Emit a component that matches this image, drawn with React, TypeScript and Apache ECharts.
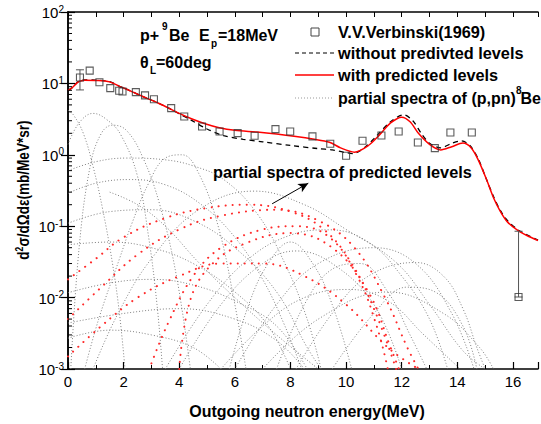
import React, { useEffect, useRef } from "react";
import * as echarts from "echarts";

const FONT = "'Liberation Sans', Arial, Helvetica, sans-serif";

// Experimental data V.V.Verbinski(1969)
const expX = [0.43, 0.78, 1.13, 1.52, 1.84, 1.96, 2.44, 2.77, 3.09, 3.71, 4.18, 4.82, 5.45, 6.1, 6.71, 7.46, 7.99, 8.79, 9.43, 10.0, 10.59, 11.27, 11.89, 12.58, 13.19, 13.75, 14.52, 16.2];
const expY = [12.1, 15.1, 10.4, 8.6, 7.9, 7.7, 7.55, 6.8, 6.0, 4.5, 3.44, 2.49, 2.12, 2.01, 1.85, 2.29, 2.12, 1.81, 1.43, 0.97, 1.57, 1.86, 2.12, 1.49, 1.24, 2.05, 2.05, 0.0102];
// error bars: [x, low, high]
const errBars = [
  [0.43, 8.1, 15.5],
  [16.2, 0.0102, 0.085],
];

// with predicted levels (red solid)
const withPred = [
  [0.0, 8.0], [0.15, 8.7], [0.37, 10.5], [0.6, 11.1], [1.0, 11.0], [1.5, 10.5], [1.85, 9.1], [2.2, 8.0], [2.67, 6.6], [3.2, 5.4], [3.62, 4.5], [4.0, 3.8], [4.44, 3.2], [4.9, 2.75], [5.4, 2.42], [6.0, 2.2], [6.8, 2.08], [7.5, 1.95], [8.2, 1.8], [8.8, 1.66], [9.4, 1.5], [9.8, 1.25], [10.3, 1.09], [10.8, 1.35], [11.2, 1.9], [11.6, 2.8], [12.0, 3.37], [12.3, 2.9], [12.6, 2.0], [13.0, 1.4], [13.4, 1.17], [13.8, 1.3], [14.2, 1.46], [14.5, 1.25], [14.75, 0.85], [15.05, 0.45], [15.3, 0.25], [15.55, 0.16], [15.8, 0.115], [16.2, 0.086], [16.5, 0.074], [16.9, 0.063],
];
// without predicted levels (black dashed)
const withoutPred = [
  [0.0, 8.0], [0.15, 8.7], [0.37, 10.6], [0.6, 11.2], [1.0, 11.1], [1.5, 10.6], [1.85, 9.1], [2.2, 8.0], [2.67, 6.6], [3.2, 5.4], [3.62, 4.5], [4.0, 3.75], [4.4, 3.1], [5.0, 2.3], [5.6, 1.85], [6.3, 1.65], [7.0, 1.52], [8.0, 1.35], [9.0, 1.22], [9.5, 1.17], [10.0, 1.07], [10.25, 1.04], [10.7, 1.3], [11.1, 1.85], [11.6, 2.9], [12.07, 3.63], [12.4, 3.0], [12.7, 2.0], [13.0, 1.45], [13.4, 1.25], [13.8, 1.45], [14.14, 1.57], [14.45, 1.35], [14.75, 0.88], [15.05, 0.45], [15.3, 0.26], [15.55, 0.165], [15.8, 0.12], [16.2, 0.088], [16.5, 0.076], [16.9, 0.064],
];

// partial spectra of (p,pn)8Be (grey dotted)
const g01 = [[0, 4.2], [0.2, 3.6], [0.55, 2.0], [0.9, 0.69], [1.25, 0.17], [1.6, 0.03], [1.85, 0.006], [2.05, 0.001]];
const g02 = [[0, 1.4], [0.4, 2.8], [0.9, 3.8], [1.4, 3.1], [1.9, 1.9], [2.5, 0.5], [2.9, 0.07], [3.2, 0.008], [3.4, 0.001]];
const g03 = [[0.1, 0.001], [0.4, 0.05], [0.8, 0.7], [1.2, 2.0], [1.6, 2.6], [2.1, 2.2], [2.7, 0.9], [3.3, 0.2], [3.9, 0.02], [4.4, 0.001]];
const g04 = [[0.6, 0.001], [1.13, 0.0054], [1.84, 0.034], [2.3, 0.11], [2.9, 0.4], [3.5, 0.9], [4.1, 1.0], [4.7, 0.55], [5.4, 0.1], [6.0, 0.008], [6.4, 0.001]];
const g05 = [[0, 0.6], [1, 0.8], [2.1, 0.9], [3.5, 0.85], [4.5, 0.7], [5.6, 0.45], [6.8, 0.15], [7.8, 0.03], [8.6, 0.005], [9.1, 0.001]];
const g06 = [[0.9, 0.001], [1.8, 0.006], [3, 0.035], [4.7, 0.17], [6.7, 0.31], [8.5, 0.2], [10, 0.09], [11.8, 0.031], [13, 0.008], [14.2, 0.0018], [15, 0.001]];
const g07 = [[0, 0.29], [1, 0.4], [2.2, 0.45], [3.5, 0.38], [4.8, 0.2], [6, 0.07], [7, 0.018], [7.8, 0.004], [8.4, 0.001]];
const g08 = [[0, 0.11], [1.5, 0.16], [3, 0.17], [4.5, 0.12], [6, 0.05], [7.5, 0.012], [8.6, 0.002], [9.1, 0.001]];
const g09 = [[0, 0.055], [1.5, 0.06], [3, 0.05], [4.5, 0.03], [6, 0.012], [7.2, 0.004], [8, 0.001]];
const g10 = [[0, 0.0117], [1.5, 0.016], [3, 0.018], [4.5, 0.015], [6, 0.009], [7.5, 0.004], [8.6, 0.001]];
const g11 = [[0, 0.0044], [2, 0.006], [4, 0.007], [6, 0.005], [7.5, 0.0025], [8.5, 0.001]];
const g12 = [[0, 0.0027], [1.5, 0.0035], [3, 0.003], [4.5, 0.002], [5.5, 0.001]];
const g13 = [[3.5, 0.001], [5, 0.008], [6.5, 0.035], [8, 0.075], [9.4, 0.089], [10.8, 0.06], [12, 0.02], [13, 0.005], [13.65, 0.001]];
const g14 = [[5.5, 0.001], [7, 0.004], [8.5, 0.01], [10.1, 0.013], [11.5, 0.009], [12.8, 0.003], [14.1, 0.001]];
const g15 = [[8.2, 0.001], [9.5, 0.006], [10.8, 0.02], [12.5, 0.031], [13.5, 0.02], [14.2, 0.007], [14.7, 0.002], [15.0, 0.001]];
const g16 = [[6, 0.001], [7.5, 0.008], [9, 0.03], [11, 0.05], [12.5, 0.03], [13.8, 0.006], [14.6, 0.001]];
const g17 = [[4, 0.001], [5.5, 0.008], [7, 0.03], [8.2, 0.045], [9.5, 0.03], [11, 0.008], [12, 0.001]];
const g18 = [[1.5, 0.3], [2.5, 0.2], [3.5, 0.1], [4.7, 0.031], [6, 0.01], [7.5, 0.003], [9, 0.001]];
const g19 = [[5.8, 0.001], [6.5, 0.008], [7.2, 0.03], [8, 0.06], [8.8, 0.03], [9.5, 0.008], [10.2, 0.001]];
const g20 = [[7.5, 0.001], [8.5, 0.008], [9.5, 0.025], [10.5, 0.03], [11.5, 0.012], [12.3, 0.003], [12.9, 0.001]];
const g21 = [[7, 0.001], [9, 0.005], [11.5, 0.012], [13.5, 0.006], [14.8, 0.002], [15.3, 0.001]];
const g22 = [[9.5, 0.001], [11, 0.006], [12.2, 0.014], [13.2, 0.012], [14.2, 0.004], [14.7, 0.001]];
const grayCurves = [g01, g02, g03, g04, g05, g06, g07, g08, g09, g10, g11, g12, g13, g14, g15, g16, g17, g18, g19, g20, g21, g22];

// partial spectra of predicted levels (red dotted)
const r1 = [[0, 0.018], [1, 0.035], [2, 0.07], [3.5, 0.13], [5, 0.18], [6.5, 0.2], [8, 0.16], [9.2, 0.09], [10.2, 0.03], [11, 0.007], [11.8, 0.001]];
const r2 = [[0, 0.005], [1.2, 0.014], [2.5, 0.04], [4, 0.09], [5.5, 0.14], [7.5, 0.17], [9, 0.12], [10.3, 0.05], [11.4, 0.01], [12.2, 0.002], [12.6, 0.001]];
const r3 = [[3.0, 0.0012], [3.6, 0.0044], [4.5, 0.02], [5.5, 0.05], [7, 0.09], [8.2, 0.1], [9.4, 0.07], [10.4, 0.02], [11.1, 0.004], [11.5, 0.001]];
const r4 = [[4.0, 0.001], [4.4, 0.0093], [5.2, 0.03], [6.5, 0.06], [8, 0.08], [9.5, 0.05], [10.8, 0.012], [11.6, 0.002], [11.9, 0.001]];
const r5 = [[0, 0.0015], [1.2, 0.004], [2.5, 0.01], [4, 0.02], [5.5, 0.03], [7, 0.03], [8.5, 0.02], [10, 0.008], [11.5, 0.002], [12.6, 0.001]];
const redCurves = [r1, r2, r3, r4, r5];

// arrow of the annotation, in data coordinates
const arrowFrom = [7.34, 0.206];
const arrowTo = [8.64, 0.4];

// axis ticks
const xLabels = [0, 2, 4, 6, 8, 10, 12, 14, 16];
const decades = [-3, -2, -1, 0, 1];
const minorMultipliers = [2, 3, 4, 5, 6, 7, 8, 9];

export default function App() {
  const ref = useRef<HTMLDivElement>(null);

  useEffect(() => {
    if (!ref.current) return;
    const chart = echarts.init(ref.current, null, { renderer: "svg" });

    const minorVals: number[][] = [];
    decades.forEach((d) => minorMultipliers.forEach((m) => minorVals.push([0, m * Math.pow(10, d)])));

    const axisLine = { show: true, lineStyle: { color: "#000", width: 1.5 } };

    const series: any[] = [];
    grayCurves.forEach((c) =>
      series.push({
        type: "line",
        data: c,
        smooth: 0.4,
        showSymbol: false,
        silent: true,
        z: 1,
        lineStyle: { color: "#808080", width: 1, type: [1, 2] },
      })
    );
    redCurves.forEach((c) =>
      series.push({
        type: "line",
        data: c,
        smooth: 0.4,
        showSymbol: false,
        silent: true,
        z: 2,
        lineStyle: { color: "#ff2a2a", width: 2, type: [0.1, 7], cap: "round" },
      })
    );
    series.push({
      type: "line",
      data: withoutPred,
      smooth: 0.3,
      showSymbol: false,
      z: 3,
      lineStyle: { color: "#000", width: 1.3, type: [5, 4] },
    });
    series.push({
      type: "line",
      data: withPred,
      smooth: 0.3,
      showSymbol: false,
      z: 4,
      lineStyle: { color: "#ff0000", width: 1.5 },
      markLine: {
        silent: true,
        symbol: ["none", "arrow"],
        symbolSize: [7, 10],
        label: { show: false },
        lineStyle: { color: "#000", width: 1, type: "solid" },
        data: [[{ coord: arrowFrom }, { coord: arrowTo }]],
      },
    });
    series.push({
      type: "custom",
      z: 5,
      silent: true,
      clip: false,
      data: errBars,
      encode: { x: 0, y: [1, 2] },
      renderItem: (params: any, api: any) => {
        const x = api.value(0);
        const lo = api.coord([x, api.value(1)]);
        const hi = api.coord([x, api.value(2)]);
        const st = { stroke: "#555", lineWidth: 1 };
        return {
          type: "group",
          children: [
            { type: "line", shape: { x1: lo[0], y1: lo[1], x2: hi[0], y2: hi[1] }, style: st },
            { type: "line", shape: { x1: hi[0] - 4, y1: hi[1], x2: hi[0] + 4, y2: hi[1] }, style: st },
            { type: "line", shape: { x1: lo[0] - 4, y1: lo[1], x2: lo[0] + 4, y2: lo[1] }, style: st },
          ],
        };
      },
    });
    series.push({
      type: "scatter",
      z: 6,
      data: expX.map((x, i) => [x, expY[i]]),
      symbol: "rect",
      symbolSize: 7,
      itemStyle: { color: "rgba(255,255,255,0)", borderColor: "#333", borderWidth: 1.1 },
    });
    // left minor ticks of the log axis
    series.push({
      type: "custom",
      z: 7,
      silent: true,
      clip: false,
      data: minorVals,
      renderItem: (params: any, api: any) => {
        const p = api.coord([0, api.value(1)]);
        return {
          type: "line",
          shape: { x1: p[0], y1: p[1], x2: p[0] + 4, y2: p[1] },
          style: { stroke: "#000", lineWidth: 1 },
        };
      },
    });

    const txt = (x: number, y: number, text: string, size: number, extra: any = {}) => ({
      type: "text",
      x,
      y,
      style: {
        text,
        fill: "#000",
        fontFamily: FONT,
        fontWeight: "bold",
        fontSize: size,
        align: "left",
        verticalAlign: "middle",
        ...extra,
      },
    });

    const option: any = {
      animation: false,
      backgroundColor: "#fff",
      grid: { left: 68, right: -3, top: 12, bottom: 55 },
      xAxis: [
        {
          type: "value",
          min: 0,
          max: 16.9,
          interval: 2,
          axisLine,
          axisTick: { inside: true, length: 7, lineStyle: { color: "#000", width: 1.2 } },
          minorTick: { show: true, splitNumber: 2, length: 4, lineStyle: { color: "#000", width: 1 } },
          splitLine: { show: false },
          axisLabel: {
            color: "#000",
            fontFamily: FONT,
            fontSize: 15,
            margin: 5,
            formatter: (v: number) => (xLabels.indexOf(v) >= 0 ? String(v) : ""),
          },
        },
        {
          type: "value",
          position: "top",
          min: 0,
          max: 16.9,
          interval: 1,
          axisLine,
          axisTick: { inside: true, length: 5, lineStyle: { color: "#000", width: 1 } },
          axisLabel: { show: false },
          splitLine: { show: false },
        },
      ],
      yAxis: [
        {
          type: "log",
          logBase: 10,
          min: 0.001,
          max: 100,
          axisLine,
          axisTick: { inside: true, length: 7, lineStyle: { color: "#000", width: 1.2 } },
          splitLine: { show: false },
          axisLabel: {
            margin: 4,
            color: "#000",
            fontFamily: FONT,
            formatter: (v: number) => "{b|10}{s|" + Math.round(Math.log10(v)) + "}",
            rich: {
              b: { fontSize: 15, fontFamily: FONT, color: "#000", verticalAlign: "bottom", lineHeight: 16 },
              s: { fontSize: 10, fontFamily: FONT, color: "#000", verticalAlign: "top", lineHeight: 10, padding: [0, 0, 10, 0] },
            },
          },
        },
        {
          type: "log",
          logBase: 10,
          min: 0.001,
          max: 100,
          position: "right",
          axisLine,
          axisTick: { inside: true, length: 7, lineStyle: { color: "#000", width: 1.2 } },
          axisLabel: { show: false },
          splitLine: { show: false },
        },
      ],
      series,
      graphic: [
        txt(140, 35, "p+", 16),
        txt(162, 26, "9", 10),
        txt(169, 35, "Be", 16),
        txt(199, 35, "E", 16),
        txt(211, 43, "p", 10),
        txt(218, 35, "=18MeV", 16),
        txt(140, 62, "θ", 16),
        txt(150, 70, "L", 10),
        txt(156, 62, "=60deg", 16),
        { type: "rect", shape: { x: 311, y: 28, width: 8, height: 8 }, style: { fill: "none", stroke: "#444", lineWidth: 1 } },
        txt(338, 32, "V.V.Verbinski(1969)", 16.3),
        { type: "line", shape: { x1: 295, y1: 53, x2: 334, y2: 53 }, style: { stroke: "#000", lineWidth: 1.2, lineDash: [4, 3] } },
        txt(338, 53, "without predivted levels", 16.3),
        { type: "line", shape: { x1: 295, y1: 75, x2: 334, y2: 75 }, style: { stroke: "#ff0000", lineWidth: 1.5 } },
        txt(338, 75, "with predicted levels", 16.3),
        { type: "line", shape: { x1: 295, y1: 98, x2: 334, y2: 98 }, style: { stroke: "#999", lineWidth: 1, lineDash: [1, 2] } },
        txt(338, 98, "partial spectra of (p,pn)", 16),
        txt(516, 90, "8", 10),
        txt(541, 98, "Be", 16, { align: "right" }),
        txt(213, 172, "partial spectra of predicted levels", 16.3),
        {
          type: "text",
          x: 307,
          y: 411,
          style: { text: "Outgoing neutron energy(MeV)", fill: "#000", fontFamily: FONT, fontWeight: "bold", fontSize: 16, align: "center", verticalAlign: "middle" },
        },
        {
          type: "text",
          x: 23,
          y: 190,
          rotation: Math.PI / 2,
          scaleX: 0.85,
          style: {
            text: "{m|d}{s|2}{m|σ/dΩdε(mb/MeV*sr)}",
            fill: "#000",
            fontFamily: FONT,
            fontWeight: "bold",
            fontSize: 16,
            align: "center",
            verticalAlign: "middle",
            rich: {
              m: { fontSize: 16, fontWeight: "bold", fontFamily: FONT, verticalAlign: "bottom", lineHeight: 17 },
              s: { fontSize: 10, fontWeight: "bold", fontFamily: FONT, verticalAlign: "top", lineHeight: 10, padding: [0, 0, 8, 0] },
            },
          },
        },
      ],
    };

    chart.setOption(option);
    return () => chart.dispose();
  }, []);

  return <div ref={ref} style={{ position: "fixed", left: 0, top: 0, width: 541, height: 424 }} />;
}
